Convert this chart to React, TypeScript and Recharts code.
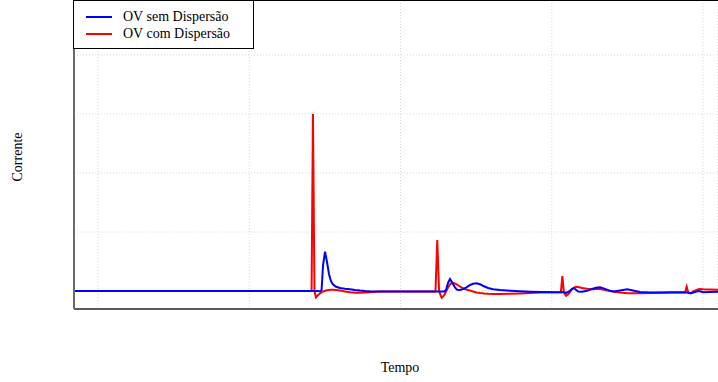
import React from "react";
import { LineChart, Line, XAxis, YAxis, CartesianGrid, ReferenceLine } from "recharts";

const tempo = [
  8.41, 24.12, 24.21, 24.31, 24.41, 24.55, 24.68, 24.78, 24.88, 25.01,
  25.14, 25.27, 25.4, 25.54, 25.74, 26.0, 26.33, 26.66, 26.99, 27.32,
  27.65, 27.98, 28.64, 32.31, 32.43, 32.55, 32.72, 32.88, 33.01, 33.14,
  33.27, 33.4, 33.6, 33.74, 33.93, 34.13, 34.33, 34.6, 34.79, 35.02,
  35.26, 35.52, 35.79, 36.12, 36.58, 37.24, 37.9, 38.56, 39.22, 40.6,
  40.7, 40.8, 40.94, 41.14, 41.34, 41.47, 41.6, 41.74, 42.0, 42.33,
  42.66, 42.93, 43.19, 43.52, 43.85, 44.12, 44.51, 44.98, 45.37, 45.83,
  46.5, 47.16, 48.02, 48.82, 48.92, 49.02, 49.19, 49.41, 49.69, 49.8,
  50.0, 50.46, 50.99,
];

const ovComDispersao = [
  0, 0, 3.0, 0, -0.107, -0.068, -0.042, -0.025, -0.008, 0.003,
  0.012, 0.017, 0.02, 0.02, 0.017, 0.007, -0.008, -0.022, -0.029, -0.031,
  -0.027, -0.02, -0.01, -0.008, 0.864, -0.008, -0.114, -0.076, -0.008, 0.059,
  0.11, 0.141, 0.127, 0.11, 0.076, 0.047, 0.025, 0.008, -0.008, -0.024,
  -0.034, -0.042, -0.047, -0.051, -0.051, -0.047, -0.041, -0.034, -0.027, -0.022,
  0.254, -0.022, -0.08, -0.042, 0.034, 0.059, 0.073, 0.068, 0.051, 0.037,
  0.031, 0.034, 0.034, 0.017, 0, -0.014, -0.027, -0.037, -0.039, -0.039,
  -0.034, -0.029, -0.022, -0.02, 0.073, -0.025, -0.039, 0, 0.029, 0.034,
  0.031, 0.027, 0.022,
];

const ovSemDispersao = [
  0, 0, 0, 0, 0, 0, -0.008, 0.017, 0.441, 0.666,
  0.492, 0.288, 0.169, 0.11, 0.071, 0.051, 0.039, 0.029, 0.017, 0.007,
  0, -0.005, -0.008, -0.008, -0.008, -0.008, -0.008, -0.008, 0.017, 0.136,
  0.203, 0.153, 0.059, 0.022, 0.017, 0.031, 0.059, 0.102, 0.122, 0.131,
  0.114, 0.08, 0.051, 0.031, 0.017, 0.005, -0.005, -0.012, -0.017, -0.022,
  -0.022, -0.022, -0.034, -0.008, 0.034, 0.046, 0.02, -0.008, -0.014, 0.003,
  0.034, 0.056, 0.063, 0.037, 0.003, -0.008, 0.008, 0.029, 0.008, -0.017,
  -0.025, -0.027, -0.027, -0.027, -0.027, -0.031, -0.039, -0.022, 0, -0.003,
  -0.02, -0.017, -0.012,
];

const xTicks = [10, 20, 30, 40, 50];
const yTicks = [0, 1, 2, 3, 4];
const X_DOMAIN: [number, number] = [8.413, 50.99];
const Y_DOMAIN: [number, number] = [-0.305, 4.932];

const legendItems = [
  { label: "OV sem Dispersão", color: "#0000ff" },
  { label: "OV com Dispersão", color: "#ff0000" },
];

const data = tempo.map((t, i) => ({
  tempo: t,
  sem: ovSemDispersao[i],
  com: ovComDispersao[i],
}));

const serif = "'Liberation Serif', 'Times New Roman', serif";
const NoTick = () => <g />;

export default function App() {
  return (
    <div style={{ position: "absolute", left: 0, top: 0, width: 718, height: 382, background: "#fff" }}>
      <LineChart
        width={718}
        height={382}
        data={data}
        margin={{ top: 0, right: 0, left: 73, bottom: 72 }}
      >
        <CartesianGrid stroke="#d6d6d6" strokeDasharray="1 2" />
        <XAxis
          dataKey="tempo"
          type="number"
          domain={X_DOMAIN}
          ticks={xTicks}
          allowDataOverflow
          height={1}
          tick={NoTick}
          tickLine={false}
          axisLine={{ stroke: "#5a5a5a", strokeWidth: 2 }}
        />
        <YAxis
          type="number"
          domain={Y_DOMAIN}
          ticks={yTicks}
          allowDataOverflow
          width={1}
          tick={NoTick}
          tickLine={false}
          axisLine={{ stroke: "#6a6a6a", strokeWidth: 2 }}
        />
        <ReferenceLine y={Y_DOMAIN[1]} stroke="#000" strokeWidth={2} />
        <Line
          type="linear"
          dataKey="com"
          stroke="#ff0000"
          strokeWidth={2}
          dot={false}
          isAnimationActive={false}
        />
        <Line
          type="linear"
          dataKey="sem"
          stroke="#0000ff"
          strokeWidth={2}
          dot={false}
          isAnimationActive={false}
        />
      </LineChart>
      <div
        style={{
          position: "absolute",
          left: 73,
          top: 0,
          width: 181,
          height: 49,
          boxSizing: "border-box",
          border: "1px solid #000",
          background: "#fff",
          fontFamily: serif,
          fontSize: 14,
          color: "#000",
        }}
      >
        {legendItems.map((it, i) => (
          <div key={it.label} style={{ position: "absolute", left: 0, top: 7 + i * 17, height: 17, width: 180 }}>
            <div
              style={{
                position: "absolute",
                left: 12,
                top: 8,
                width: 26,
                height: 2,
                background: it.color,
              }}
            />
            <div style={{ position: "absolute", left: 49, top: 0, lineHeight: "17px", whiteSpace: "nowrap" }}>
              {it.label}
            </div>
          </div>
        ))}
      </div>
      <div
        style={{
          position: "absolute",
          left: 18,
          top: 157,
          transform: "translate(-50%, -50%) rotate(-90deg)",
          fontFamily: serif,
          fontSize: 14,
          whiteSpace: "nowrap",
          color: "#000",
        }}
      >
        Corrente
      </div>
      <div
        style={{
          position: "absolute",
          left: 400,
          top: 368,
          transform: "translate(-50%, -50%)",
          fontFamily: serif,
          fontSize: 14,
          whiteSpace: "nowrap",
          color: "#000",
        }}
      >
        Tempo
      </div>
    </div>
  );
}
